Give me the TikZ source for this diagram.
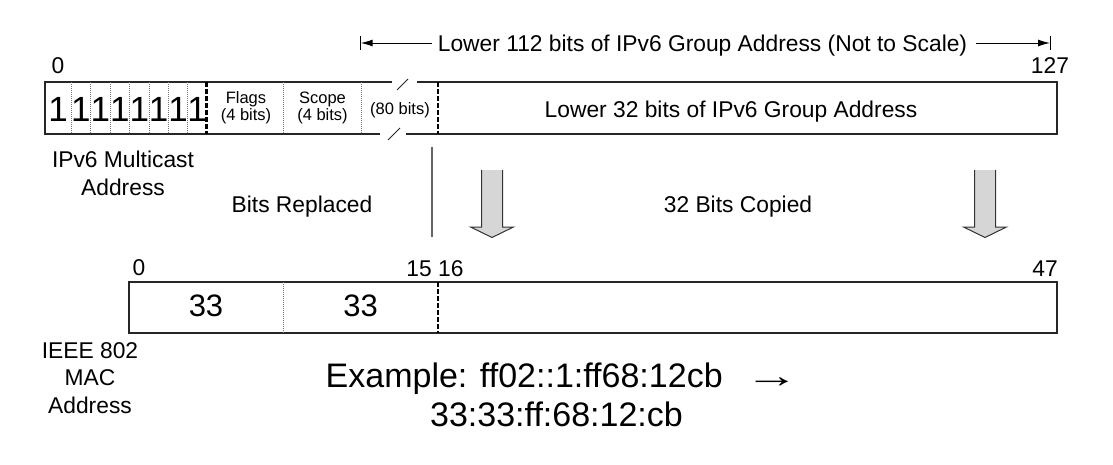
\documentclass[tikz,border=0pt]{standalone}
\usepackage{fontspec}
\setmainfont{Liberation Sans}[Ligatures=NoCommon]
\usetikzlibrary{arrows.meta,calc}
\tikzset{
  field/.style={draw=black!85, line width=1.3pt},
  bitline/.style={draw=black!55, line width=0.8pt, dash pattern=on 0.8pt off 1.2pt},
  byteline/.style={draw=black, line width=2.6pt, dash pattern=on 5pt off 2pt},
  lbl/.style={font=\fontsize{22.8}{27.5}\selectfont, inner sep=0pt, anchor=base, align=center},
  note/.style={font=\fontsize{16.5}{17.5}\selectfont, inner sep=0pt, anchor=base, align=center},
  digit/.style={font=\fontsize{35}{40}\selectfont, inner sep=0pt, anchor=base},
  octet/.style={font=\fontsize{31}{36}\selectfont, inner sep=0pt, anchor=base},
  example/.style={font=\fontsize{34}{39}\selectfont, inner sep=0pt, anchor=base},
  dimline/.style={draw=black, line width=1pt},
  copyfill/.style={fill=black!16},
  copyedge/.style={draw=black!80, line width=1pt, line join=miter},
}
\begin{document}
\begin{tikzpicture}[x=1pt,y=-1pt]
\useasboundingbox (0,0) rectangle (1113,464);
% IPv6 address
\path[field] (417,82) -- (1057,82) -- (1057,134) -- (406,134) (380,134) -- (45,134) -- (45,82) -- (392,82);
\path[field, line width=1pt] (397,90) -- (408,79) (388,140) -- (400,128);
\path[bitline] (71,82) -- (71,134) (90.7,82) -- (90.7,134) (110,82) -- (110,134) (129.7,82) -- (129.7,134)
  (149,82) -- (149,134) (168.3,82) -- (168.3,134) (187.7,82) -- (187.7,134)
  (283.3,82) -- (283.3,134) (361,82) -- (361,134);
\path[byteline] (206.7,82) -- (206.7,134) (438,82) -- (438,134);
\path (58,121.7) node[digit](d1){1} (80.8,121.7) node[digit](d2){1} (100.3,121.7) node[digit](d3){1}
  (119.8,121.7) node[digit](d4){1} (139.3,121.7) node[digit](d5){1} (158.7,121.7) node[digit](d6){1}
  (178,121.7) node[digit](d7){1} (197.2,121.7) node[digit](d8){1};
\node[note] (flags) at (246,120.7) {Flags\\(4 bits)};
\node[note] (scope) at (322.5,120.7) {Scope\\(4 bits)};
\node[note] (mid) at (400,114) {(80 bits)};
\node[lbl] (low32) at (731,117.5) {Lower 32 bits of IPv6 Group Address};
\node[lbl] (zero) at (58,73) {0};
\node[lbl] (last) at (1050,73) {127};
\node[lbl] (mcast) at (123,195) {IPv6 Multicast\\Address};
% span of the lower 112 bits
\coordinate (lo) at (360.7,43);
\coordinate (hi) at (1050,43);
\node[lbl] (span) at (702.5,51.5) {Lower 112 bits of IPv6 Group Address (Not to Scale)};
\draw[dimline,-{Latex[length=12pt,width=7pt]}] ($(span.west|-lo)+(-5.5,0)$) -- (lo);
\draw[dimline,-{Latex[length=12pt,width=7pt]}] ($(span.east|-hi)+(8.5,0)$) -- (hi);
\draw[dimline] ($(lo)+(0,-7)$) -- ($(lo)+(0,7)$) ($(hi)+(0,-7)$) -- ($(hi)+(0,7)$);
% mapping
\draw[draw=black!60, line width=1.3pt] (432,147) -- (432,237);
\node[lbl] (replaced) at (302,212) {Bits Replaced};
\node[lbl] (copied) at (738,212) {32 Bits Copied};
\fill[copyfill] (481.5,170) -- (481.5,227) -- (470.5,227) -- (492,237.5) -- (513.5,227) -- (502.5,227) -- (502.5,170) -- cycle;
\draw[copyedge] (481.5,170) -- (481.5,227) -- (470.5,227) -- (492,237.5) -- (513.5,227) -- (502.5,227) -- (502.5,170);
\fill[copyfill] (974.5,170) -- (974.5,227) -- (963.5,227) -- (985,237.5) -- (1006.5,227) -- (995.5,227) -- (995.5,170) -- cycle;
\draw[copyedge] (974.5,170) -- (974.5,227) -- (963.5,227) -- (985,237.5) -- (1006.5,227) -- (995.5,227) -- (995.5,170);
% MAC address
\path[field] (129,282) rectangle (1057,333);
\path[bitline] (283,282) -- (283,333);
\path[byteline] (438,282) -- (438,333);
\node[lbl] (mzero) at (139,275) {0};
\node[lbl] (mmid) at (435,276.5) {15 16};
\node[lbl] (mlast) at (1045,276) {47};
\node[octet] (o1) at (206,316.5) {33};
\node[octet] (o2) at (360.5,316.5) {33};
\node[lbl] (ieee) at (90,413) {IEEE 802\\MAC\\Address};
\node[example, anchor=base west] (ex) at (325.5,387) {Example: ff02::1:ff68:12cb\hspace{22pt}\scalebox{1.6}[1]{→}};
\node[example] (exmac) at (556.5,426) {33:33:ff:68:12:cb};
\end{tikzpicture}
\end{document}
